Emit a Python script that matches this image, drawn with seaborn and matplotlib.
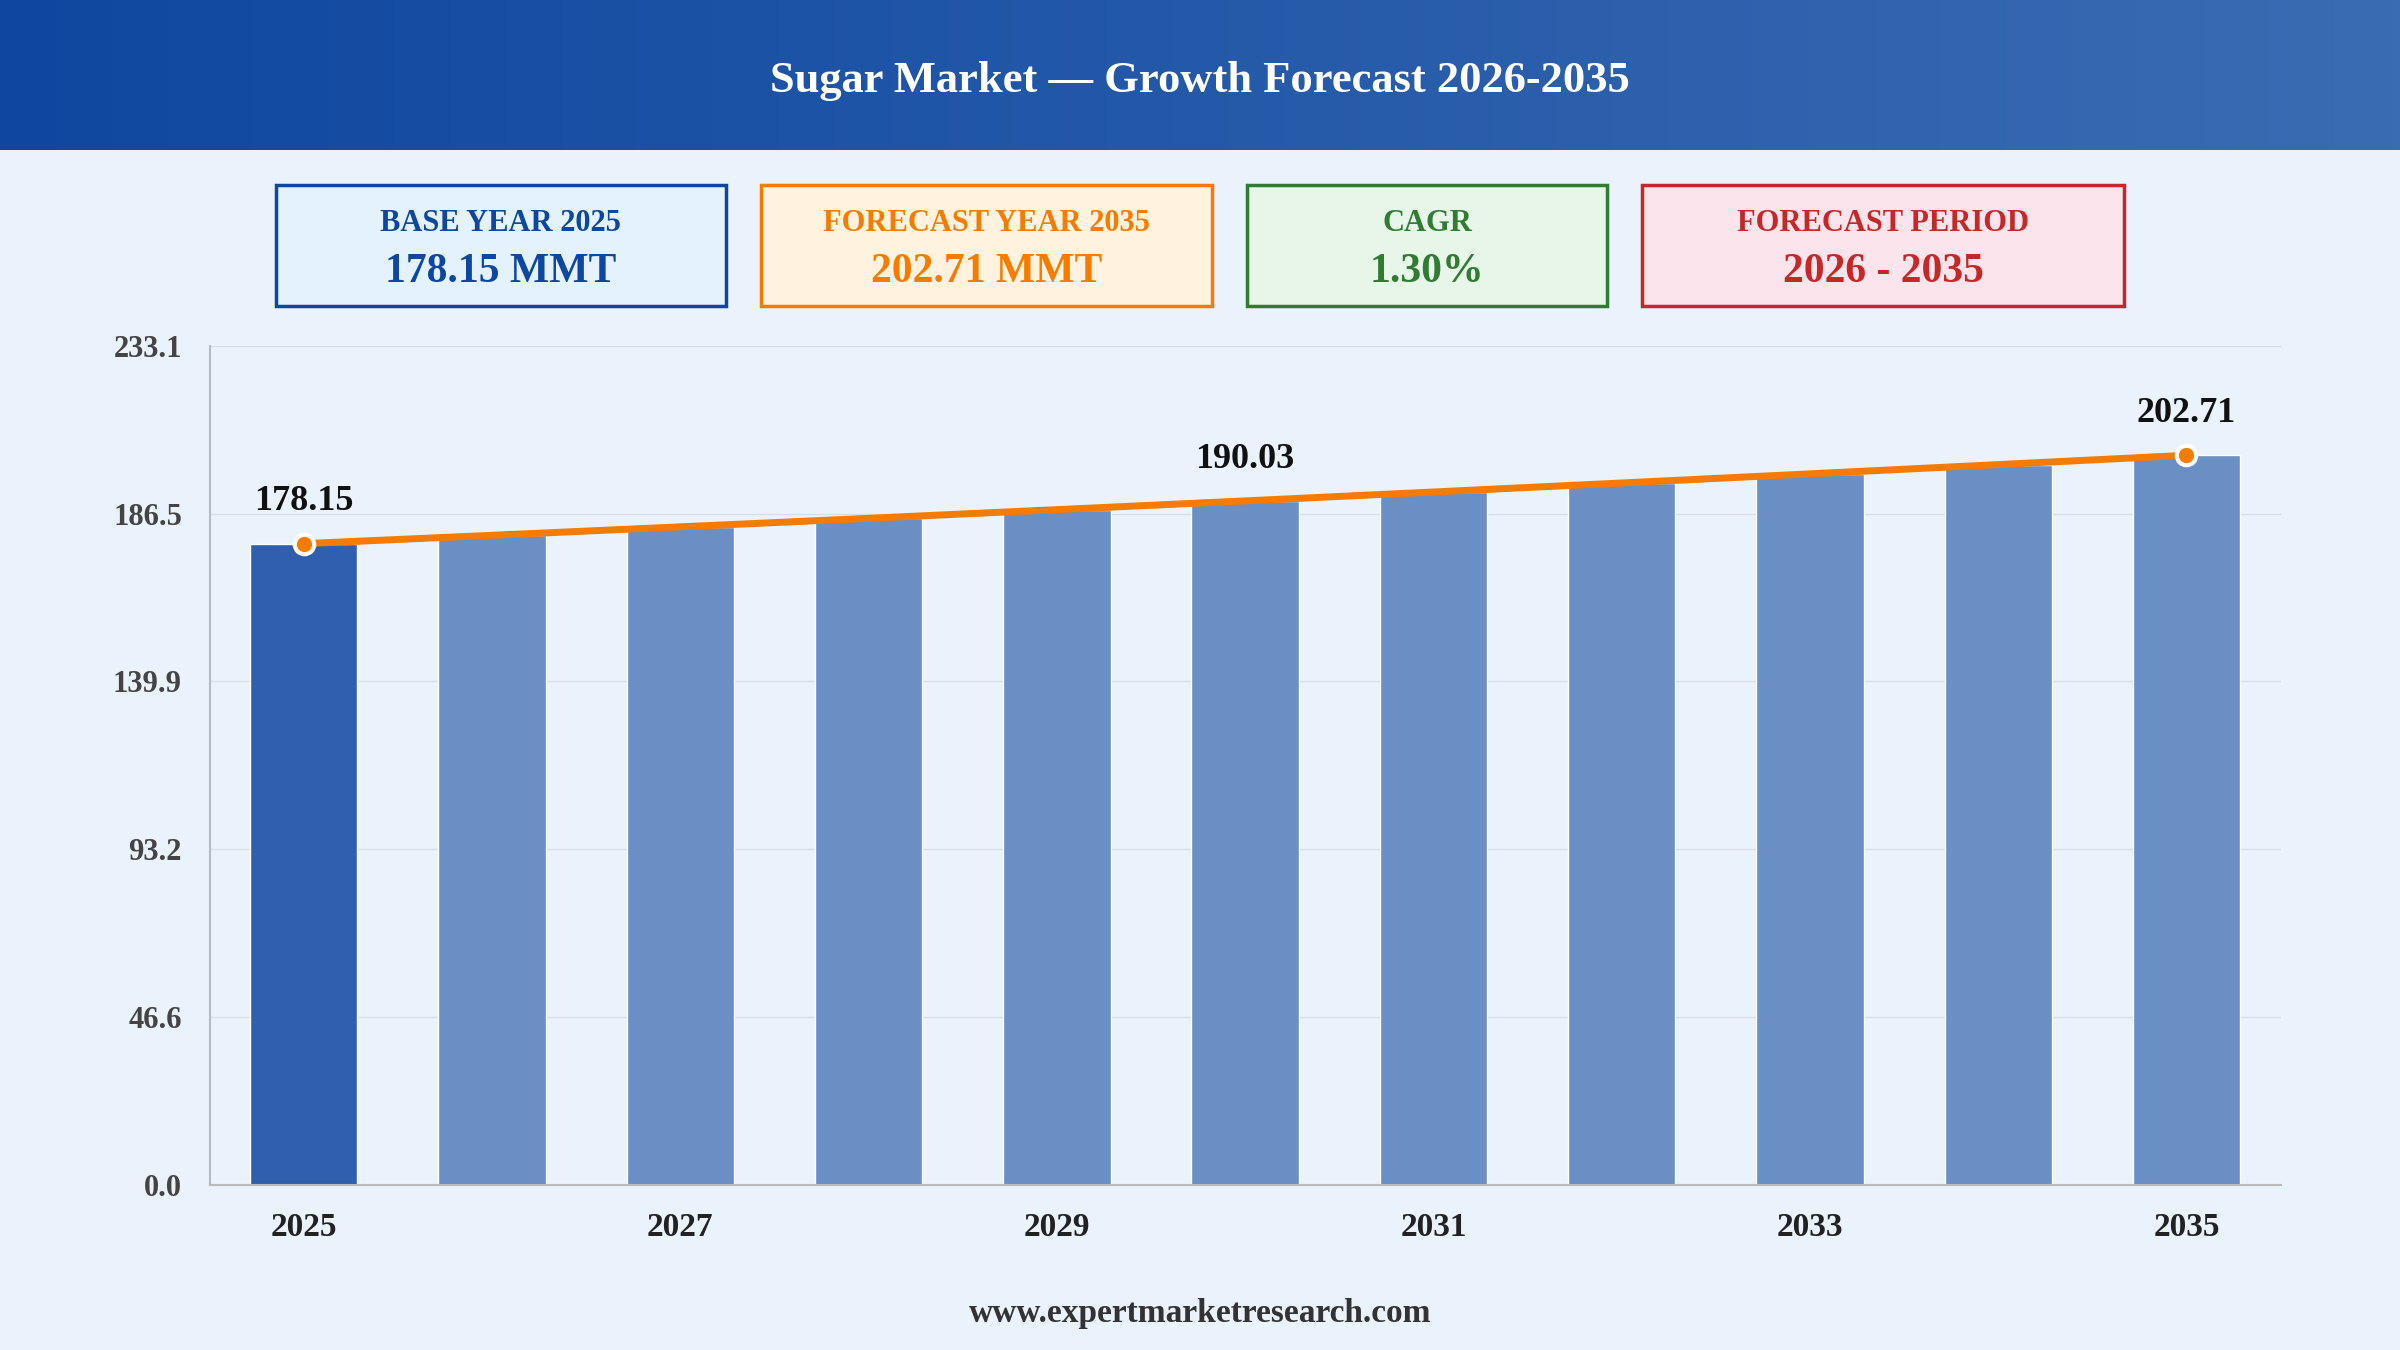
import numpy as np
import matplotlib
matplotlib.use("Agg")
import matplotlib.pyplot as plt
from matplotlib.patches import Rectangle
import seaborn as sns
import pandas as pd

years = [2025, 2026, 2027, 2028, 2029, 2030, 2031, 2032, 2033, 2034, 2035]
values = [178.15, 180.47, 182.82, 185.19, 187.60, 190.03, 192.51, 195.01, 197.55, 200.12, 202.71]
label_years = [2025, 2030, 2035]
yticks = [0.0, 46.6, 93.2, 139.9, 186.5, 233.1]
xtick_years = [2025, 2027, 2029, 2031, 2033, 2035]

cards = [
    ("BASE YEAR 2025", "178.15 MMT", "#0d47a1", "#e3f2fd"),
    ("FORECAST YEAR 2035", "202.71 MMT", "#f57c00", "#fff3e0"),
    ("CAGR", "1.30%", "#2e7d32", "#e8f5e9"),
    ("FORECAST PERIOD", "2026 - 2035", "#c62828", "#fce4ec"),
]
card_x = [(180, 474), (497, 792), (815, 1050), (1073, 1388)]

sns.set_theme(style="white")
plt.rcParams['font.family'] = ['Liberation Serif', 'DejaVu Serif']
W, H = 1568, 882

fig = plt.figure(figsize=(24, 13.5), dpi=100)
bg = "#eaf2fb"
fig.patch.set_facecolor(bg)

# header gradient
hax = fig.add_axes([0, 1 - 98 / H, 1, 98 / H])
grad = np.linspace(0, 1, 256).reshape(1, -1)
cmap = matplotlib.colors.LinearSegmentedColormap.from_list("h", ["#0f47a0", "#3a6cb3"])
hax.imshow(grad, aspect="auto", cmap=cmap, extent=[0, 1, 0, 1])
hax.set_axis_off()
hax.text(0.5, 0.46, "Sugar Market — Growth Forecast 2026-2035", color="white",
         fontsize=32, fontweight="bold", ha="center", va="center")

# cards
for (t, v, ec, fc), (x0, x1) in zip(cards, card_x):
    fig.patches.append(Rectangle((x0 / W, 1 - 200 / H), (x1 - x0) / W, 79 / H,
                                 transform=fig.transFigure, facecolor=fc,
                                 edgecolor=ec, linewidth=2.5))
    cx = (x0 + x1) / 2 / W
    fig.text(cx, 1 - 146 / H, t, color=ec, fontsize=22, fontweight="bold", ha="center", va="center")
    fig.text(cx, 1 - 178 / H, v, color=ec, fontsize=30, fontweight="bold", ha="center", va="center")

ax = fig.add_axes([137 / W, 1 - 774 / H, (1490 - 137) / W, (774 - 226) / H])
ax.set_facecolor(bg)
df = pd.DataFrame({"year": years, "value": values})
palette = ["#2f5fae"] + ["#6a8fc4"] * (len(years) - 1)
sns.barplot(data=df, x="year", y="value", hue="year", palette=palette,
            legend=False, width=0.57, ax=ax, saturation=1)
xs = np.arange(len(years))
ax.plot(xs, values, color="#f57c00", linewidth=5, zorder=5)
for i in [0, len(years) - 1]:
    ax.plot(xs[i], values[i], "o", color="#f57c00", markersize=14,
            markeredgecolor="white", markeredgewidth=3, zorder=6)
for y in label_years:
    i = years.index(y)
    ax.text(xs[i], values[i] + 7, f"{values[i]:.2f}", ha="center", va="bottom",
            fontsize=26, fontweight="bold", color="#111111", zorder=7)

ax.set_ylim(0, 233.1)
ax.set_xlim(-0.5, len(years) - 0.5)
ax.set_yticks(yticks)
ax.set_yticklabels([f"{t:.1f}" for t in yticks], fontsize=22, fontweight="bold", color="#444444")
ax.set_xticks([years.index(y) for y in xtick_years])
ax.set_xticklabels([str(y) for y in xtick_years], fontsize=24, fontweight="bold", color="#222222")
ax.grid(axis="y", color="#d8dee8", linewidth=1)
ax.set_axisbelow(True)
ax.set_xlabel("")
ax.set_ylabel("")
for s in ["top", "right"]:
    ax.spines[s].set_visible(False)
for s in ["left", "bottom"]:
    ax.spines[s].set_color("#bbbbbb")
    ax.spines[s].set_linewidth(1.5)
ax.tick_params(axis="x", length=0, pad=20)
ax.tick_params(axis="y", length=0, pad=20)

fig.text(0.5, 1 - 858 / H, "www.expertmarketresearch.com", ha="center", va="center",
         fontsize=24, fontweight="bold", color="#333333")

plt.savefig("out.png", dpi=100, facecolor=bg)
